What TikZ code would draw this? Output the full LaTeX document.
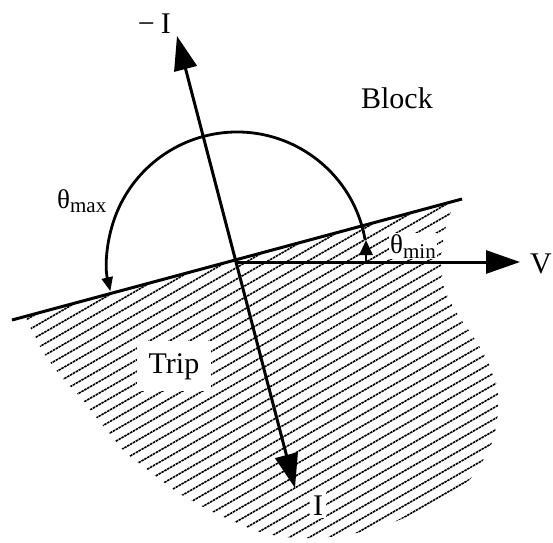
\documentclass[tikz,border=0pt]{standalone}
\usepackage{fontspec}
\setmainfont{Liberation Serif}
\usetikzlibrary{arrows.meta,calc}
\tikzset{
  bigtip/.tip={Triangle[length=34pt,width=23pt]},
  smalltip/.tip={Triangle[length=14pt,width=11pt]},
  axisline/.style={line width=3pt},
  bound/.style={line width=3pt},
  anglearc/.style={line width=2.8pt},
  hatchline/.style={line width=1.6pt, dash pattern=on 2.5pt off 0.8pt},
  lbl/.style={font=\fontsize{30}{36}\selectfont, inner sep=0pt},
  glbl/.style={font=\fontsize{27}{32}\selectfont, inner sep=0pt},
}
\newcommand{\subsz}[1]{{\fontsize{21}{24}\selectfont #1}}
\begin{document}
\begin{tikzpicture}[x=1pt,y=-1pt]
\useasboundingbox (0,0) rectangle (553,542);
\coordinate (O) at (237,262);
\coordinate (L1) at (12,320);
\coordinate (L2) at (462,199);
\coordinate (Vtip) at (520,262);
\coordinate (Itip) at (295,488);
\coordinate (mItip) at (177,36);
\coordinate (m0) at (366,262);
\coordinate (m1) at (366,240);
% hatched trip region
\begin{scope}
  \clip (25,316.5) -- plot[smooth] coordinates {(455,200.9) (445,230) (441,262) (445,290) (458,315) (474,338) (488,362) (498,393) (494,437) (472,477) (445,497) (413,514) (380,527) (340,536) (295,538) (257,531) (213,512) (177,492) (150,472) (125,452) (100,422) (80,397) (60,375) (42,350) (25,316.5)} -- cycle;
  \foreach \c in {160,170,...,760}
    \draw[hatchline] (-50,{(\c+25)/0.866}) -- (600,{(\c-300)/0.866});
\end{scope}
% boundary line
\draw[bound] (L1) -- (L2);
% axes
\draw[axisline,-bigtip] (O) -- (Vtip);
\draw[axisline,bigtip-bigtip] (Itip) -- (mItip);
% angle arcs
\draw[anglearc,-smalltip] ($(O)+(-10:130)$) arc[start angle=-10, end angle=-193, radius=130];
\draw[anglearc,-{Triangle[length=15pt,width=13pt]}] (m0) -- (m1);
% labels
\node[lbl, anchor=base east] (block) at (433,108) {Block};
\node[lbl, anchor=base, fill=white, inner xsep=12pt, inner ysep=12pt] (trip) at (174,373) {Trip};
\node[lbl, anchor=base, fill=white, inner sep=3pt] (ilbl) at (318,515) {I};
\node[lbl, anchor=base east] (milbl) at (171,33) {−\hspace{6pt}I};
\node[lbl, anchor=base west] (vlbl) at (530,273) {V};
\node[glbl, anchor=base west] (tmax) at (57,208) {θ\raisebox{-4pt}{\subsz{max}}};
\node[glbl, anchor=base west, fill=white, inner sep=1pt] (tmin) at (389,253) {θ\raisebox{-5pt}{\subsz{min}}};
\end{tikzpicture}
\end{document}
